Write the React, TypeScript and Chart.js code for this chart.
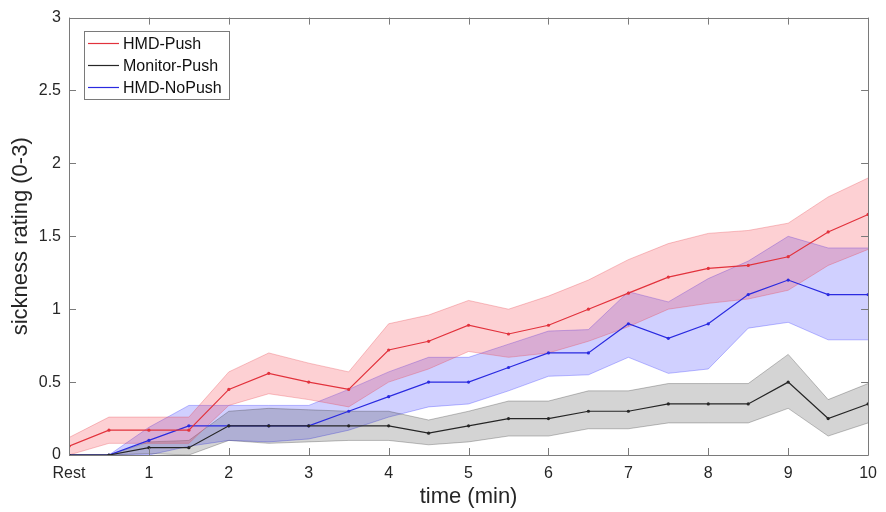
import React, { useEffect, useRef } from "react";
import { Chart, registerables } from "chart.js";

Chart.register(...registerables);

const times = [0, 0.5, 1, 1.5, 2, 2.5, 3, 3.5, 4, 4.5, 5, 5.5, 6, 6.5, 7, 7.5, 8, 8.5, 9, 9.5, 10];

const hmdPush = [0.06, 0.17, 0.17, 0.17, 0.45, 0.56, 0.5, 0.45, 0.72, 0.78, 0.89, 0.83, 0.89, 1.0, 1.11, 1.22, 1.28, 1.3, 1.36, 1.53, 1.65];
const hmdPushUpper = [0.12, 0.26, 0.26, 0.26, 0.57, 0.7, 0.63, 0.57, 0.9, 0.96, 1.06, 1.0, 1.09, 1.2, 1.34, 1.45, 1.52, 1.54, 1.59, 1.77, 1.9];
const hmdPushLower = [0.0, 0.08, 0.08, 0.08, 0.34, 0.42, 0.38, 0.33, 0.5, 0.59, 0.71, 0.67, 0.7, 0.78, 0.88, 1.0, 1.04, 1.07, 1.13, 1.3, 1.41];

const monitorPush = [0, 0, 0.05, 0.05, 0.2, 0.2, 0.2, 0.2, 0.2, 0.15, 0.2, 0.25, 0.25, 0.3, 0.3, 0.35, 0.35, 0.35, 0.5, 0.25, 0.35];
const monitorPushUpper = [0, 0, 0.09, 0.1, 0.3, 0.32, 0.31, 0.3, 0.3, 0.24, 0.3, 0.37, 0.37, 0.44, 0.44, 0.49, 0.49, 0.49, 0.69, 0.38, 0.49];
const monitorPushLower = [0, 0, 0.01, 0.0, 0.1, 0.08, 0.09, 0.1, 0.1, 0.07, 0.09, 0.13, 0.13, 0.18, 0.18, 0.22, 0.22, 0.22, 0.32, 0.13, 0.22];

const hmdNoPush = [0, 0, 0.1, 0.2, 0.2, 0.2, 0.2, 0.3, 0.4, 0.5, 0.5, 0.6, 0.7, 0.7, 0.9, 0.8, 0.9, 1.1, 1.2, 1.1, 1.1];
const hmdNoPushUpper = [0, 0, 0.19, 0.34, 0.34, 0.34, 0.34, 0.45, 0.57, 0.67, 0.67, 0.76, 0.85, 0.86, 1.12, 1.05, 1.21, 1.33, 1.5, 1.42, 1.42];
const hmdNoPushLower = [0, 0, 0.0, 0.06, 0.1, 0.09, 0.11, 0.17, 0.26, 0.33, 0.35, 0.44, 0.54, 0.55, 0.67, 0.56, 0.59, 0.87, 0.91, 0.79, 0.79];

const seriesNames = ["HMD-Push", "Monitor-Push", "HMD-NoPush"];
const lineColors = ["#e2323c", "#262626", "#2a2ae0"];
const bandFill = ["rgba(245, 60, 70, 0.24)", "rgba(40, 40, 40, 0.2)", "rgba(40, 40, 255, 0.22)"];
const bandEdge = ["rgba(230, 60, 70, 0.3)", "rgba(40, 40, 40, 0.28)", "rgba(40, 40, 255, 0.3)"];

const xTickLabelRest = "Rest";
const xTitle = "time (min)";
const yTitle = "sickness rating (0-3)";

const FONT = "'Liberation Sans', Arial, Helvetica, sans-serif";

const pts = (arr: number[]) => times.map((t, i) => ({ x: t, y: arr[i] }));

export default function App() {
  const ref = useRef<HTMLCanvasElement | null>(null);

  useEffect(() => {
    if (!ref.current) return;
    const means = [hmdPush, monitorPush, hmdNoPush];
    const uppers = [hmdPushUpper, monitorPushUpper, hmdNoPushUpper];
    const lowers = [hmdPushLower, monitorPushLower, hmdNoPushLower];

    const datasets: any[] = [];
    for (let i = 0; i < 3; i++) {
      datasets.push({
        label: seriesNames[i],
        data: pts(means[i]),
        borderColor: lineColors[i],
        backgroundColor: lineColors[i],
        borderWidth: 1.2,
        pointRadius: 1.6,
        pointBorderWidth: 0,
        fill: false,
        order: 0,
      });
    }
    for (let i = 0; i < 3; i++) {
      const lowerIndex = datasets.length + 1;
      datasets.push({
        label: seriesNames[i] + " upper",
        data: pts(uppers[i]),
        borderColor: bandEdge[i],
        backgroundColor: bandFill[i],
        borderWidth: 1,
        pointRadius: 0,
        fill: { target: lowerIndex },
        order: 1,
      });
      datasets.push({
        label: seriesNames[i] + " lower",
        data: pts(lowers[i]),
        borderColor: bandEdge[i],
        borderWidth: 1,
        pointRadius: 0,
        fill: false,
        order: 1,
      });
    }

    const frame = {
      id: "frame",
      afterDraw(chart: any) {
        const { ctx, chartArea: a, scales } = chart;
        const x = scales.x;
        const y = scales.y;
        ctx.save();
        ctx.strokeStyle = "#7a7a7a";
        ctx.lineWidth = 1;
        ctx.beginPath();
        ctx.rect(Math.round(a.left) + 0.5, Math.round(a.top) + 0.5, Math.round(a.right - a.left), Math.round(a.bottom - a.top));
        ctx.stroke();
        const tl = 7;
        ctx.beginPath();
        for (let v = 0; v <= 10; v++) {
          const px = Math.round(x.getPixelForValue(v)) + 0.5;
          ctx.moveTo(px, a.bottom);
          ctx.lineTo(px, a.bottom - tl);
          ctx.moveTo(px, a.top);
          ctx.lineTo(px, a.top + tl);
        }
        for (let v = 0; v <= 3.0001; v += 0.5) {
          const py = Math.round(y.getPixelForValue(v)) + 0.5;
          ctx.moveTo(a.left, py);
          ctx.lineTo(a.left + tl, py);
          ctx.moveTo(a.right, py);
          ctx.lineTo(a.right - tl, py);
        }
        ctx.stroke();

        ctx.fillStyle = "#262626";
        ctx.font = `22px ${FONT}`;
        ctx.textAlign = "center";
        ctx.textBaseline = "middle";
        ctx.fillText(xTitle, (a.left + a.right) / 2, 497);
        ctx.save();
        ctx.translate(21, (a.top + a.bottom) / 2);
        ctx.rotate(-Math.PI / 2);
        ctx.fillText(yTitle, 0, 0);
        ctx.restore();

        const lx = 84.5, ly = 31.5, lw = 145, lh = 68;
        ctx.fillStyle = "#ffffff";
        ctx.fillRect(lx, ly, lw, lh);
        ctx.strokeStyle = "#7a7a7a";
        ctx.lineWidth = 1;
        ctx.strokeRect(lx, ly, lw, lh);
        ctx.font = `16px ${FONT}`;
        ctx.textAlign = "left";
        ctx.textBaseline = "middle";
        const rows = [43.5, 65.5, 87.5];
        for (let i = 0; i < 3; i++) {
          ctx.strokeStyle = lineColors[i];
          ctx.lineWidth = 1.2;
          ctx.beginPath();
          ctx.moveTo(88, rows[i]);
          ctx.lineTo(119, rows[i]);
          ctx.stroke();
          ctx.fillStyle = "#111111";
          ctx.fillText(seriesNames[i], 123, rows[i] + 1);
        }
        ctx.restore();
      },
    };

    const chart = new Chart(ref.current, {
      type: "line",
      data: { datasets },
      options: {
        animation: false,
        responsive: false,
        maintainAspectRatio: false,
        layout: { padding: { left: 0, right: 9, top: 14, bottom: 0 } },
        plugins: {
          legend: { display: false },
          tooltip: { enabled: false },
        },
        scales: {
          x: {
            type: "linear",
            min: 0,
            max: 10,
            grid: { display: false, drawTicks: false },
            border: { display: false },
            afterFit: (s: any) => { s.height = 57; },
            ticks: {
              stepSize: 1,
              padding: 9,
              color: "#262626",
              font: { family: FONT, size: 16 },
              maxRotation: 0,
              autoSkip: false,
              callback: (v: any) => (v === 0 ? xTickLabelRest : String(v)),
            },
          },
          y: {
            type: "linear",
            min: 0,
            max: 3,
            grid: { display: false, drawTicks: false },
            border: { display: false },
            afterFit: (s: any) => { s.width = 69; },
            ticks: {
              stepSize: 0.5,
              padding: 8,
              color: "#262626",
              font: { family: FONT, size: 16 },
              callback: (v: any) => String(Math.round(Number(v) * 10) / 10),
            },
          },
        },
      },
      plugins: [frame],
    });
    return () => chart.destroy();
  }, []);

  return (
    <div style={{ position: "fixed", left: 0, top: 0, width: 886, height: 512, background: "#fff" }}>
      <canvas ref={ref} width={886} height={512} style={{ width: 886, height: 512, display: "block" }} />
    </div>
  );
}
